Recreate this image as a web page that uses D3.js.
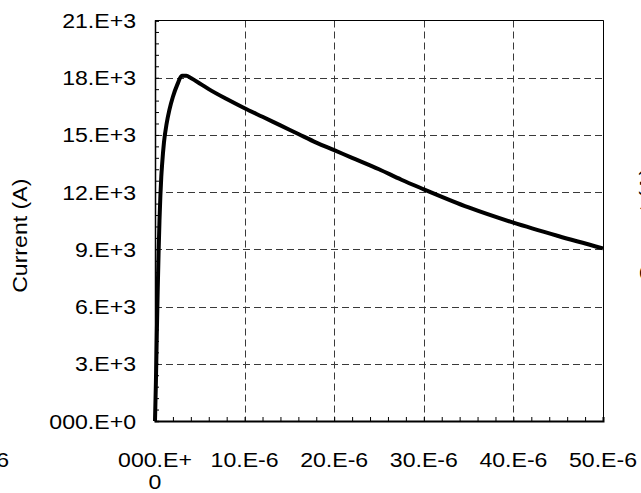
<!DOCTYPE html>
<html>
<head>
<meta charset="utf-8">
<script src="https://cdn.jsdelivr.net/npm/d3@7/dist/d3.min.js"></script>
<style>
  html, body { margin: 0; padding: 0; background: #fff; }
  svg { display: block; }
  text { font-family: "Liberation Sans", Arial, sans-serif; fill: #000; }
</style>
</head>
<body>
<svg id="chart" width="641" height="493"></svg>
<script>
// Impulse current waveform: time (µs) and current (A)
const timeUs = [0, 0.1, 0.2, 0.3, 0.4, 0.5, 0.6, 0.7, 0.8, 1.0, 1.3, 1.6, 2.0, 2.5, 3.0, 3.5, 4.0, 5.0, 6.0, 8.0,
                10, 12, 14, 16, 18, 20, 22, 25, 27.5, 30, 35, 40, 45, 50];
const currentA = [0, 2000, 4500, 6800, 8800, 10500, 11800, 12800, 13500, 14600, 15600, 16300, 17000, 17650, 18100,
                  18100, 17980, 17700, 17400, 16880, 16400, 15950, 15500, 15050, 14600, 14200, 13800, 13200, 12650,
                  12150, 11200, 10400, 9700, 9050];

const xTicks = [0, 10e-6, 20e-6, 30e-6, 40e-6, 50e-6];
const xTickLabels = ["000.E+0", "10.E-6", "20.E-6", "30.E-6", "40.E-6", "50.E-6"];
const yTicks = [0, 3000, 6000, 9000, 12000, 15000, 18000, 21000];
const yTickLabels = ["000.E+0", "3.E+3", "6.E+3", "9.E+3", "12.E+3", "15.E+3", "18.E+3", "21.E+3"];
const yTitle = "Current (A)";

const svg = d3.select("#chart");
const pLeft = 155, pRight = 603, pTop = 20.5, pBottom = 421;
const fontSize = 21;
const stretch = 1.1;   // wide glyphs of the original typeface

const x = d3.scaleLinear().domain([0, 50e-6]).range([pLeft, pRight]);
const y = d3.scaleLinear().domain([0, 21000]).range([pBottom, pTop]);

// dashed grid at major ticks
const grid = svg.append("g").attr("stroke", "#3a3a3a").attr("stroke-width", 1).attr("stroke-dasharray", "7,4");
grid.selectAll("line.v").data(xTicks.slice(1)).join("line")
  .attr("x1", d => Math.round(x(d)) + 0.5).attr("x2", d => Math.round(x(d)) + 0.5)
  .attr("y1", pTop).attr("y2", pBottom);
grid.selectAll("line.h").data(yTicks.slice(1, -1)).join("line")
  .attr("y1", d => Math.round(y(d)) + 0.5).attr("y2", d => Math.round(y(d)) + 0.5)
  .attr("x1", pLeft).attr("x2", pRight);

// plot frame
svg.append("line").attr("x1", pLeft).attr("x2", pRight + 0.5).attr("y1", pTop).attr("y2", pTop)
  .attr("stroke", "#000").attr("stroke-width", 1);
svg.append("line").attr("x1", pRight + 0.5).attr("x2", pRight + 0.5).attr("y1", pTop).attr("y2", pBottom)
  .attr("stroke", "#000").attr("stroke-width", 1);

// axes with inward ticks (major + minor)
const yMinor = d3.range(0, 21001, 600);
const xMinor = d3.range(0, 50.001, 2).map(v => v * 1e-6);

const yAxis = d3.axisLeft(y).tickValues(yMinor).tickSize(-4).tickFormat("");
svg.append("g").attr("transform", `translate(${pLeft},0)`).call(yAxis)
  .call(g => g.select(".domain").attr("stroke-width", 1.5))
  .call(g => g.selectAll(".tick line").attr("stroke-width", 1));

const xAxis = d3.axisBottom(x).tickValues(xMinor).tickSize(-4).tickFormat("");
svg.append("g").attr("transform", `translate(0,${pBottom})`).call(xAxis)
  .call(g => g.select(".domain").attr("stroke-width", 2))
  .call(g => g.selectAll(".tick line").attr("stroke-width", 1));

// text helper: places a label at (px, py), optionally rotated, stretched along its baseline
function label(px, py, str, anchor, rot) {
  return svg.append("text")
    .attr("transform", `translate(${px},${py})${rot ? ` rotate(${rot})` : ""} scale(${stretch},1)`)
    .attr("text-anchor", anchor).attr("font-size", fontSize)
    .text(str);
}

// y tick labels
yTicks.forEach((d, i) => label(136, y(d) + 7.5, yTickLabels[i], "end"));

// x tick labels (the first one wraps onto a second line)
xTicks.forEach((d, i) => {
  const lab = xTickLabels[i];
  if (i === 0) {
    label(x(d), 467, lab.slice(0, -1), "middle");
    label(x(d), 489, lab.slice(-1), "middle");
  } else {
    label(x(d), 467, lab, "middle");
  }
});

// axis title
label(27, (pTop + pBottom) / 2 + 15, yTitle, "middle", -90);

// neighbouring panel texts cut by the page edges
label(9, 467, xTickLabels[5], "end");
label(654, 225, yTitle, "middle", -90);

// waveform
const line = d3.line()
  .x((d, i) => x(timeUs[i] * 1e-6))
  .y(d => y(d))
  .curve(d3.curveMonotoneX);
svg.append("path").datum(currentA)
  .attr("d", line)
  .attr("fill", "none").attr("stroke", "#000").attr("stroke-width", 4)
  .attr("stroke-linejoin", "round");
</script>
</body>
</html>
